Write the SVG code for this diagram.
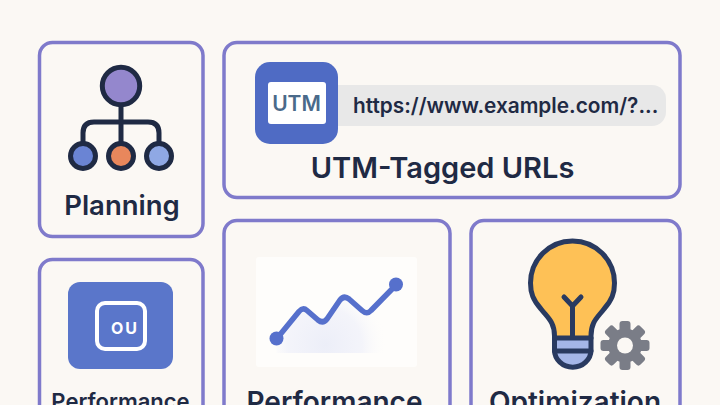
<svg xmlns="http://www.w3.org/2000/svg" width="720" height="405" viewBox="0 0 720 405">
<style>
.card{fill:#fbf8f4;stroke:#7f7acb;stroke-width:3.500}
.t{font-family:Inter,"Noto Sans",sans-serif;font-weight:600;fill:#1f2a44}
.line{fill:none;stroke:#1f2a44;stroke-width:5;stroke-linecap:round;stroke-linejoin:round}
.bl{fill:none;stroke:#293a60;stroke-width:5;stroke-linecap:round;stroke-linejoin:round}
</style>
<defs>
<radialGradient id="fade" gradientUnits="userSpaceOnUse" cx="325" cy="345" r="62"><stop offset="0" stop-color="#eceef8"/><stop offset=".6" stop-color="#f1f2fa" stop-opacity=".8"/><stop offset="1" stop-color="#fefdfb" stop-opacity="0"/></radialGradient>
</defs>
<rect width="720" height="405" fill="#fbf8f4"/>
<g id="planning">
<rect class="card" x="39.500" y="42.500" width="163.500" height="194" rx="13"/>
<path class="line" d="M121 107V146M83 143V133Q83 122 94 122H148Q159 122 159 133V143"/>
<circle cx="121" cy="86" r="18.700" fill="#9487cd" stroke="#1f2a44" stroke-width="5"/>
<circle cx="83" cy="156" r="12.500" fill="#6a84d4" stroke="#1f2a44" stroke-width="5"/>
<circle cx="121" cy="156" r="12.500" fill="#e8875c" stroke="#1f2a44" stroke-width="5"/>
<circle cx="159" cy="156" r="12.500" fill="#8fa8e4" stroke="#1f2a44" stroke-width="5"/>
<text class="t" x="122" y="215" font-size="27.500" text-anchor="middle">Planning</text>
</g>
<g id="utm-tagged-urls">
<rect class="card" x="224" y="42.500" width="456" height="155" rx="13"/>
<rect x="320" y="85" width="346" height="41" rx="14" fill="#e8e8e8"/>
<rect x="255" y="62" width="83" height="82" rx="15" fill="#4f6bc4"/>
<rect x="268" y="82" width="58" height="42" rx="3" fill="#ffffff"/>
<text x="296.500" y="111" font-family="Inter,'Noto Sans',sans-serif" font-weight="600" font-size="21" text-anchor="middle" fill="#4a6a8a">UTM</text>
<text class="t" x="353" y="113" font-size="20.800">https://www.example.com/?...</text>
<text class="t" x="442.500" y="178" font-size="29" text-anchor="middle">UTM-Tagged URLs</text>
</g>
<g id="performance-ou">
<rect class="card" x="39.500" y="259.500" width="163.500" height="170" rx="13"/>
<rect x="68" y="282" width="105" height="87" rx="12" fill="#5a76ca"/>
<rect x="97" y="303" width="48" height="46" rx="8" fill="none" stroke="#fff" stroke-width="4"/>
<text x="125" y="334" font-family="Inter,'Noto Sans',sans-serif" font-weight="700" font-size="16" letter-spacing="2" text-anchor="middle" fill="#fff">OU</text>
<text class="t" x="120.500" y="409" font-size="22" text-anchor="middle">Performance</text>
</g>
<g id="performance-chart">
<rect class="card" x="224" y="220.500" width="226" height="210" rx="13"/>
<rect x="256" y="257" width="161" height="110" rx="3" fill="#fefdfb"/>
<path d="M276.500 353V339L303 309L323 322L344 297L367 313L396 285V353Z" fill="url(#fade)"/>
<path d="M276.500 339L299 311.500Q303 307 307 310.500L318 320Q323 324 327 319L340 300Q344 295 349 299L362 310.500Q367 315 371 310.500L396 285" fill="none" stroke="#5670cc" stroke-width="5.500" stroke-linecap="round" stroke-linejoin="round"/>
<circle cx="276.500" cy="338.500" r="7" fill="#5670cc"/>
<circle cx="396" cy="284.500" r="7" fill="#5670cc"/>
<text class="t" x="334.500" y="412" font-size="28" text-anchor="middle">Performance</text>
</g>
<g id="optimization">
<rect class="card" x="471" y="220.500" width="209" height="210" rx="13"/>
<path d="M554.500 336C554.500 322 548 318 541 309C533 300 530.500 293 530.500 283A42 42 0 0 1 614.500 283C614.500 293 612 300 604 309C597 318 591 322 591 336Z" fill="#fec156"/>
<path d="M554.500 338H591V350A18 17 0 0 1 554.500 350Z" fill="#a4b6e8"/>
<path class="bl" d="M554.500 336C554.500 322 548 318 541 309C533 300 530.500 293 530.500 283A42 42 0 0 1 614.500 283C614.500 293 612 300 604 309C597 318 591 322 591 336V350A18 17 0 0 1 554.500 350Z"/>
<path class="bl" d="M572.500 338V306M564 297L572.500 306L581 297M554.500 338H591M554.500 351H591" stroke-width="4.500"/>
<g fill="#7a7d87">
<circle cx="625" cy="345.500" r="17"/>
<rect x="619.500" y="321" width="11" height="49" rx="3"/>
<rect x="619.500" y="321" width="11" height="49" rx="3" transform="rotate(45 625 345.500)"/>
<rect x="619.500" y="321" width="11" height="49" rx="3" transform="rotate(90 625 345.500)"/>
<rect x="619.500" y="321" width="11" height="49" rx="3" transform="rotate(135 625 345.500)"/>
</g>
<circle cx="625" cy="345.500" r="8" fill="#fbf8f4"/>
<text class="t" x="575" y="412" font-size="28" text-anchor="middle">Optimization</text>
</g>
</svg>
